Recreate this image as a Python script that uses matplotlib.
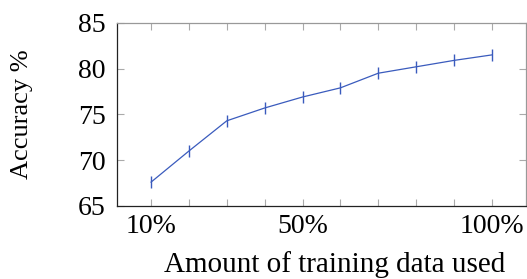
import numpy
from matplotlib import pyplot

pyplot.rcParams['font.family'] = ['Liberation Serif', 'DejaVu Serif']

# amount of training data (%) vs accuracy (%)
trainPct = [10, 20, 30, 40, 50, 60, 70, 80, 90, 100]
accuracy = [67.6, 71.0, 74.3, 75.7, 76.9, 77.9, 79.5, 80.2, 80.9, 81.5]
xTickLabels = ["10%", "50%", "100%"]
xTickPos = [10, 50, 100]

fig = pyplot.figure(figsize=(5.27, 2.79), dpi=100)
ax = fig.add_axes([0.222, 0.262, 0.776, 0.656])

ax.plot(trainPct, accuracy, color='#3a5bbd', lw=0.9,
        marker='|', markersize=9, markeredgewidth=1.0)

ax.set_xlim(1, 109)
ax.set_ylim(65, 85)
ax.set_yticks(numpy.arange(65, 86, 5))
ax.set_xticks(trainPct, minor=True)
ax.set_xticks(xTickPos)
ax.set_xticklabels(xTickLabels)

ax.tick_params(which='both', direction='in', length=5, width=0.8,
               color='#aaaaaa', top=True, right=True, labelsize=20)
ax.tick_params(axis='y', pad=8)
ax.tick_params(axis='x', pad=6)

for side in ['left', 'bottom']:
    ax.spines[side].set_color('#222222')
for side in ['top', 'right']:
    ax.spines[side].set_color('#999999')
for s in ax.spines.values():
    s.set_linewidth(0.9)

ax.set_xlabel("Amount of training data used", fontsize=21)
ax.xaxis.set_label_coords(0.533, -0.245)
ax.set_ylabel("Accuracy %", fontsize=19)
ax.yaxis.set_label_coords(-0.205, 0.5)

pyplot.savefig("out.png", dpi=100)
